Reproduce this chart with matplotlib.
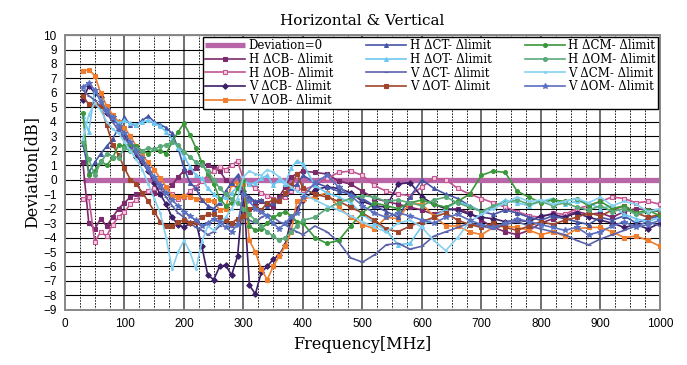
import matplotlib
matplotlib.use("Agg")
import matplotlib.pyplot as plt
from matplotlib.ticker import MultipleLocator

# frequency points [MHz]: 10 MHz steps to 390, then 20 MHz steps
freq = [30, 40, 50, 60, 70, 80, 90, 100, 110, 120, 130, 140, 150, 160, 170, 180,
        190, 200, 210, 220, 230, 240, 250, 260, 270, 280, 290, 300, 310, 320, 330,
        340, 350, 360, 370, 380, 390,
        400, 420, 440, 460, 480, 500, 520, 540, 560, 580, 600, 620, 640, 660, 680,
        700, 720, 740, 760, 780, 800, 820, 840, 860, 880, 900, 920, 940, 960, 980, 1000]

zero_freq = [30, 1000]
zero_dev = [0.0, 0.0]

h_cb = [1.2, -3.0, -3.4, -2.7, -3.2, -2.6, -2.0, -1.6, -1.2, -1.0, -0.9, -0.8, -0.9, -1.0, -0.7, -0.4,
        0.2, 0.6, 0.5, 0.8, 1.1, 1.0, 0.8, 0.6, 0.0, -0.3, -0.6, -1.2, -1.3, -1.6, -1.5,
        -1.7, -1.9, -1.2, -0.5, 0.2, 0.4,
        0.6, 0.5, 0.4, -0.1, -0.3, -0.8, -1.3, -1.5, -1.7, -1.9, -2.1, -2.4, -2.1, -2.0, -2.3,
        -2.8, -3.3, -3.6, -3.8, -3.5, -3.0, -2.7, -2.5, -2.2, -2.4, -2.3, -2.6, -2.2, -2.0, -2.1, -2.2]
h_ob = [-1.3, -1.2, -4.3, -3.6, -3.9, -3.1, -2.6, -2.2, -1.7, -1.4, -1.0, -0.8, -0.6, -0.5, -0.7, -1.0,
        -1.3, -1.2, -0.8, -0.5, -0.1, 0.3, 0.6, 0.9, 0.7, 1.0, 1.3, 0.0, -0.3, -0.6, -0.9,
        -1.1, -1.3, -1.4, -1.2, -0.8, -0.6,
        -0.7, -0.4, 0.1, 0.5, 0.6, 0.3, -0.4, -0.8, -1.0, -1.1, -0.5, 0.1, 0.0, -0.6, -1.0,
        -1.3, -1.6, -1.9, -2.2, -2.5, -2.6, -2.3, -2.4, -2.0, -1.8, -1.5, -1.2, -1.3, -1.6, -1.5, -1.7]
v_cb = [5.5, 6.5, 6.0, 5.7, 4.6, 4.2, 4.0, 3.1, 2.4, 1.6, 1.2, 0.6, -0.2, -1.0, -1.7, -2.6,
        -3.1, -3.3, -3.0, -2.9, -4.6, -6.6, -6.9, -6.0, -5.9, -6.6, -5.3, -0.8, -7.3, -7.9, -6.4,
        -6.0, -5.5, -5.2, -4.5, -2.8, -2.0,
        -1.4, -0.7, -0.5, -0.6, -0.9, -1.5, -1.8, -1.9, -0.3, -0.2, -1.2, -1.7, -2.0, -2.1, -2.4,
        -2.6, -2.7, -2.9, -2.8, -2.9, -2.5, -2.4, -2.6, -2.3, -2.6, -2.8, -3.0, -3.3, -3.1, -3.4, -3.0]
v_ob = [7.5, 7.6, 7.2, 6.0, 5.1, 4.5, 4.0, 3.6, 3.0, 2.3, 1.7, 1.2, 0.7, 0.1, -0.5, -1.1,
        -1.2, -1.1, -1.2, -1.3, -1.4, -1.4, -1.5, -2.1, -2.0, -0.3, -0.2, -0.3, -4.2, -5.0, -6.2,
        -6.9, -6.0, -5.3, -4.6, -3.6, -1.5,
        -1.3, -1.2, -0.9, -1.9, -2.6, -3.1, -3.4, -2.6, -2.7, -1.6, -1.7, -2.5, -3.2, -3.2, -3.6,
        -3.8, -3.3, -3.2, -3.3, -3.5, -3.8, -3.6, -3.9, -3.4, -3.3, -3.3, -3.6, -4.0, -3.9, -4.2, -4.6]
h_ct = [2.5, 0.5, 1.2, 1.8, 2.3, 2.8, 3.6, 4.3, 3.8, 3.8, 4.1, 4.4, 4.0, 3.8, 3.6, 3.2,
        2.2, 0.8, -0.2, -0.6, -1.4, -1.8, -2.0, -1.6, -0.8, -0.2, 0.3, -0.9, -1.2, -1.5, -1.4,
        -1.8, -1.6, -1.3, -1.0, -0.6, -0.3,
        0.3, -0.2, -0.5, -0.8, -1.0, -1.3, -1.8, -2.2, -2.6, -1.2, 0.0, -0.6, -1.0, -1.3, -1.8,
        -2.2, -2.4, -2.1, -2.3, -2.6, -2.8, -2.5, -2.7, -2.9, -3.1, -2.6, -2.8, -2.5, -3.0, -2.7, -2.5]
h_ot = [4.4, 3.3, 6.2, 5.5, 4.8, 4.3, 3.9, 4.1, 3.9, 3.8, 4.0, 4.1, 3.9, 3.7, 3.3, 2.8,
        2.2, 1.6, 0.9, 0.3, 0.1, -0.6, -1.0, -1.4, -1.2, -0.9, -0.5, 0.0, -0.3, -0.2, 0.1,
        0.3, -0.4, 0.0, -0.3, 0.8, 1.3,
        1.1, -0.4, -0.9, -1.2, -1.6, -2.4, -3.0, -3.5, -4.5, -4.4, -3.2, -2.6, -2.0, -1.5, -1.8,
        -2.2, -1.9, -1.4, -1.6, -1.8, -1.5, -1.3, -1.7, -1.5, -1.6, -2.0, -1.8, -2.4, -2.7, -2.9, -2.6]
v_ct = [6.2, 5.8, 5.5, 5.0, 4.6, 4.0, 3.4, 2.9, 2.3, 1.8, 1.2, 0.6, 0.0, -0.6, -1.2, -1.8,
        -2.3, -2.6, -3.0, -3.3, -3.5, -3.8, -3.6, -3.2, -2.9, -3.3, -3.0, -2.6, -2.8, -3.0, -2.6,
        -2.4, -2.6, -2.9, -3.1, -3.4, -3.6,
        -3.8, -3.2, -3.6, -4.3, -5.4, -5.7, -5.2, -4.5, -4.4, -4.8, -4.6, -3.9, -3.6, -3.3, -3.0,
        -3.2, -3.4, -3.1, -2.9, -3.2, -3.4, -3.6, -3.8, -4.2, -4.5, -4.1, -3.8, -3.5, -3.2, -2.9, -3.2]
v_ot = [5.8, 5.2, 5.2, 5.1, 3.8, 2.4, 1.7, 0.8, 0.0, -0.3, -0.9, -1.5, -2.2, -2.9, -3.2, -3.2,
        -2.9, -2.8, -3.0, -2.9, -2.6, -2.4, -2.4, -2.6, -2.8, -3.0, -2.7, -2.5, -2.0, -1.9, -2.1,
        -1.6, -1.4, -1.5, -0.9, -0.4, 0.4,
        -0.6, -1.0, -1.2, -1.5, -1.9, -2.3, -2.8, -3.4, -3.6, -3.2, -2.9, -2.6, -2.3, -2.8, -3.1,
        -3.3, -3.0, -3.3, -3.5, -3.2, -2.9, -3.1, -2.8, -2.6, -2.3, -2.5, -2.1, -1.8, -2.3, -2.6, -2.4]
h_cm = [4.6, 0.3, 0.6, 1.3, 1.0, 1.5, 2.4, 2.3, 2.5, 2.3, 2.0, 1.8, 2.1, 2.0, 1.8, 2.6,
        3.3, 3.9, 3.1, 2.2, 1.2, 0.4, -0.3, -1.3, -1.8, -1.6, -0.6, 0.0, -3.2, -3.5, -3.4,
        -3.0, -2.6, -2.4, -2.2, -2.5, -2.9,
        -3.0, -4.0, -4.4, -4.2, -3.2, -2.3, -1.6, -1.8, -2.0, -1.6, -1.4, -1.7, -1.9, -1.5, -1.0,
        0.3, 0.6, 0.5, -0.8, -1.2, -1.6, -1.4, -1.5, -1.3, -1.8, -1.5, -2.0, -1.8, -2.3, -2.1, -2.5]
h_om = [2.6, 1.4, 0.3, 1.2, 1.8, 1.6, 1.5, 2.2, 2.0, 2.1, 2.0, 2.2, 2.1, 2.3, 2.4, 2.6,
        2.4, 1.9, 1.6, 1.2, 1.0, 0.6, 0.0, -0.6, -1.0, -1.3, -1.6, -2.0, -2.4, -2.8, -3.2,
        -3.6, -3.9, -4.2, -4.0, -3.6, -3.2,
        -2.8, -2.6, -2.0, -1.6, -1.3, -1.1, -1.2, -1.5, -1.4, -1.6, -1.8, -1.4, -1.2, -1.6, -1.9,
        -2.2, -1.8, -1.6, -1.4, -1.7, -1.5, -1.8, -1.6, -1.9, -2.1, -1.8, -2.2, -2.0, -2.4, -2.2, -2.1]
v_cm = [2.8, 4.5, 5.3, 4.8, 4.0, 3.5, 3.2, 2.6, 2.0, 1.4, 0.7, -0.3, -1.3, -2.3, -4.0, -6.2,
        -5.0, -4.2, -5.0, -6.2, -4.3, -3.2, -3.5, -3.0, -2.6, -2.0, -1.3, 0.2, 0.6, 0.4, 0.3,
        0.7, 0.5, 0.2, -0.2, -0.5, -0.8,
        -1.0, -1.4, -1.8, -2.1, -2.5, -2.9, -3.3, -3.6, -3.0, -2.8, -3.3, -4.2, -4.9, -4.0, -2.9,
        -2.4, -2.0, -1.6, -1.2, -1.5, -1.4, -1.7, -1.5, -1.3, -1.6, -1.2, -1.8, -1.5, -1.7, -2.2, -2.0]
v_om = [6.4, 6.7, 6.2, 5.4, 4.8, 4.3, 3.7, 3.2, 2.6, 2.0, 1.5, 0.8, 0.2, -0.4, -0.9, -1.4,
        -1.8, -2.2, -2.5, -2.8, -3.2, -3.0, -2.7, -2.9, -3.3, -3.6, -3.1, -1.0, -1.5, -2.0, -2.2,
        -2.5, -3.0, -3.4, -3.0, -2.6, -2.3,
        -1.2, -0.2, 0.3, -0.5, -1.1, -1.8, -2.3, -2.6, -2.3, -2.5, -2.8, -3.0, -2.6, -2.4, -2.8,
        -3.1, -3.3, -3.0, -2.7, -2.9, -3.1, -3.3, -3.5, -3.3, -3.8, -3.6, -3.2, -2.9, -3.3, -3.1, -2.8]

# (label, values, line colour, marker, marker face)
series = [
    ("H \u0394CB- \u0394limit", h_cb, "#7b2a6c", "s", "#7b2a6c"),
    ("H \u0394OB- \u0394limit", h_ob, "#c25592", "s", "#f6cfe2"),
    ("V \u0394CB- \u0394limit", v_cb, "#3d1f68", "D", "#3d1f68"),
    ("V \u0394OB- \u0394limit", v_ob, "#f07d2c", "s", "#f07d2c"),
    ("H \u0394CT- \u0394limit", h_ct, "#4655a6", "^", "#4655a6"),
    ("H \u0394OT- \u0394limit", h_ot, "#6cc8f0", "^", "#6cc8f0"),
    ("V \u0394CT- \u0394limit", v_ct, "#5b63a8", "_", "#5b63a8"),
    ("V \u0394OT- \u0394limit", v_ot, "#a1452a", "s", "#a1452a"),
    ("H \u0394CM- \u0394limit", h_cm, "#3a983a", "o", "#3a983a"),
    ("H \u0394OM- \u0394limit", h_om, "#5aa97a", "o", "#5aa97a"),
    ("V \u0394CM- \u0394limit", v_cm, "#86d0f0", ".", "#86d0f0"),
    ("V \u0394OM- \u0394limit", v_om, "#5a70c0", "*", "#5a70c0"),
]

serif = ["DejaVu Serif"]

fig = plt.figure(figsize=(6.87, 3.65), dpi=100)
ax = fig.add_axes([0.0946, 0.151, 0.866, 0.753])

ax.plot(zero_freq, zero_dev, color="#b866a8", lw=3.8, label="Deviation=0",
        solid_capstyle="butt", zorder=2)
for label, vals, col, mk, mfc in series:
    ms = 4 if mk == "*" else 2.8
    ax.plot(freq, vals, color=col, lw=1.2, marker=mk, ms=ms, mfc=mfc,
            mec=col, mew=0.8, label=label, zorder=3)

ax.set_xlim(0, 1000)
ax.set_ylim(-9, 10)
ax.xaxis.set_major_locator(MultipleLocator(100))
ax.xaxis.set_minor_locator(MultipleLocator(25))
ax.yaxis.set_major_locator(MultipleLocator(1))

ax.grid(which="major", axis="x", color="#555555", lw=1.2)
ax.grid(which="minor", axis="x", color="black", lw=0.6, ls=(0, (2, 1.5)))
ax.grid(which="major", axis="y", color="black", lw=0.8)
ax.set_axisbelow(True)
ax.tick_params(which="both", length=0)
ax.tick_params(labelsize=8.5, pad=6)
for lab in ax.get_xticklabels() + ax.get_yticklabels():
    lab.set_family("Liberation Sans")
for sp in ax.spines.values():
    sp.set_color("#888888")
    sp.set_linewidth(1.4)

ax.set_title("Horizontal & Vertical", family=serif, fontsize=11, pad=7)
ax.set_xlabel("Frequency[MHz]", family=serif, fontsize=11.5, labelpad=4)
ax.set_ylabel("Deviation[dB]", family=serif, fontsize=11.5, labelpad=2)

leg = ax.legend(ncol=3, loc="upper right", bbox_to_anchor=(1.0, 1.0),
                prop={"family": serif, "size": 8.5}, fancybox=False,
                edgecolor="black", framealpha=1, borderpad=0.2,
                labelspacing=0.06, handlelength=3.4, handletextpad=0.3,
                columnspacing=2.8, borderaxespad=0.15)
leg.get_frame().set_linewidth(1.0)

fig.savefig("out.png", dpi=100)
